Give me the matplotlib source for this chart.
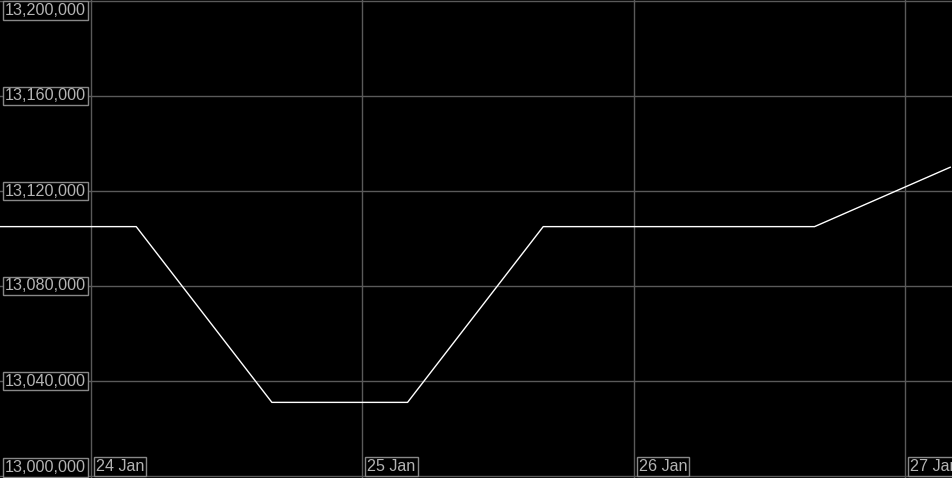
import matplotlib
matplotlib.use("Agg")
import matplotlib.pyplot as plt
import matplotlib.dates as mdates
import matplotlib.transforms as mtransforms
from datetime import datetime

# data (12-hourly points)
times = [datetime(2024, 1, 23, 16), datetime(2024, 1, 24, 4), datetime(2024, 1, 24, 16),
         datetime(2024, 1, 25, 4), datetime(2024, 1, 25, 16), datetime(2024, 1, 26, 4),
         datetime(2024, 1, 26, 16), datetime(2024, 1, 27, 4)]
values = [13105000, 13105000, 13031000, 13031000, 13105000, 13105000, 13105000, 13130000]

y_ticks = [13000000, 13040000, 13080000, 13120000, 13160000, 13200000]
x_ticks = [datetime(2024, 1, 24), datetime(2024, 1, 25), datetime(2024, 1, 26), datetime(2024, 1, 27)]
x_labels = ["24 Jan", "25 Jan", "26 Jan", "27 Jan"]

plt.rcParams['font.family'] = ['Liberation Sans', 'DejaVu Sans']

fig = plt.figure(figsize=(9.53, 4.78), dpi=100, facecolor="black")
ax = fig.add_axes([0, 0, 1, 1])
ax.set_facecolor("black")
for s in ax.spines.values():
    s.set_visible(False)
ax.set_xticks([])
ax.set_yticks([])

# axis ranges chosen so gridlines land where they do in the picture
px_per_day = 271.33
d0 = mdates.date2num(x_ticks[0])
ax.set_xlim(d0 - 91 / px_per_day, d0 + (953 - 91) / px_per_day)
per_px = 200000 / 475
ax.set_ylim(13000000 - 2 * per_px, 13200000 + 1 * per_px)

grid = "#5a5a5a"
for y in y_ticks:
    ax.axhline(y, color=grid, lw=1, zorder=1)
for x in x_ticks:
    ax.axvline(mdates.date2num(x), color=grid, lw=1, zorder=1)

ax.plot(mdates.date2num(times), values, color="white", lw=1, zorder=3)

box = dict(boxstyle="square,pad=0.12", facecolor="black", edgecolor="#888888", lw=1)
ytr = mtransforms.blended_transform_factory(ax.transAxes, ax.transData)
for y in y_ticks:
    va = "center"
    yy = y
    if y == y_ticks[-1]:
        va = "top"
        yy = 13200000 - 2 * per_px
    elif y == y_ticks[0]:
        va = "bottom"
        yy = 13000000 + 1 * per_px
    ax.text(5 / 953, yy, f"{y:,}", transform=ytr, color="#b4b4b4", fontsize=11.6,
            ha="left", va=va, bbox=box, zorder=5)

xtr = mtransforms.blended_transform_factory(ax.transData, ax.transAxes)
for x, lab in zip(x_ticks, x_labels):
    ax.text(mdates.date2num(x) + 5 / px_per_day, 4 / 478, lab, transform=xtr,
            color="#b4b4b4", fontsize=11.6, ha="left", va="bottom", bbox=box, zorder=5)

fig.savefig("out.png", dpi=100, facecolor="black")
